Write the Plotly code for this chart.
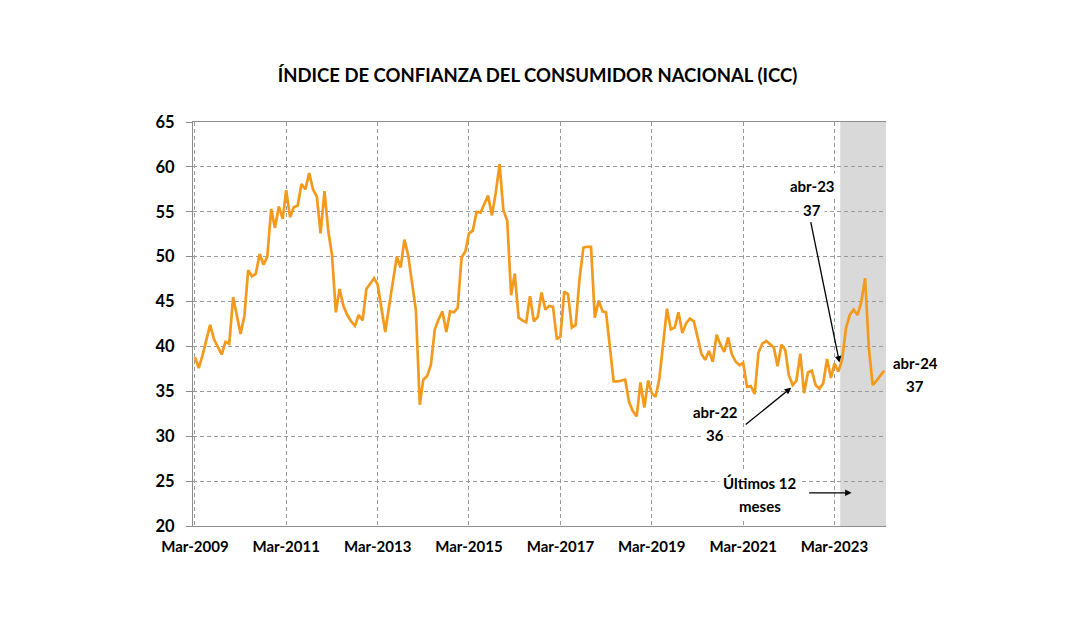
import pandas as pd
import plotly.graph_objects as go

# Monthly ICC values, Mar-2009 .. Apr-2024 (182 months)
start_month = "2009-03-01"
icc_values = [
    38.8, 37.6, 39.0, 40.7, 42.4, 40.8, 40.0, 39.1, 40.5, 40.3,
    45.5, 43.5, 41.4, 43.4, 48.5, 47.8, 48.1, 50.3, 49.1, 50.0,
    55.3, 53.2, 55.6, 54.2, 57.4, 54.4, 55.5, 55.7, 58.1, 57.5,
    59.3, 57.5, 56.7, 52.6, 57.3, 52.8, 50.2, 43.8, 46.4, 44.5,
    43.5, 42.8, 42.3, 43.5, 42.9, 46.4, 47.0, 47.6, 46.9, 44.3,
    41.6, 44.5, 47.3, 50.0, 48.8, 51.9, 50.1, 47.0, 44.0, 33.5,
    36.3, 36.7, 38.0, 41.9, 43.0, 43.9, 41.6, 43.9, 43.8, 44.3,
    49.9, 50.6, 52.6, 52.9, 55.0, 54.9, 55.9, 56.8, 54.6, 57.1,
    60.3, 55.2, 54.0, 45.7, 48.1, 43.2, 42.9, 42.7, 45.6, 42.8,
    43.3, 46.0, 44.1, 44.5, 44.4, 40.8, 41.1, 46.1, 45.8, 42.1,
    42.4, 47.5, 51.0, 51.1, 51.1, 43.2, 45.1, 43.9, 43.8, 40.0,
    36.1, 36.1, 36.2, 36.3, 33.8, 32.8, 32.2, 36.0, 33.2, 36.2,
    34.8, 34.4, 36.4, 40.5, 44.2, 41.9, 42.1, 43.8, 41.5, 42.6,
    43.1, 42.8, 41.0, 39.2, 38.5, 39.5, 38.3, 41.3, 40.2, 39.4,
    41.0, 39.1, 38.3, 37.9, 38.2, 35.5, 35.6, 34.7, 39.3, 40.3,
    40.6, 40.3, 39.9, 37.8, 40.2, 39.6, 36.8, 35.7, 36.2, 39.2,
    34.8, 37.1, 37.3, 35.7, 35.3, 35.9, 38.6, 36.5, 38.1, 37.2,
    38.5, 42.0, 43.5, 44.1, 43.5, 44.9, 47.6, 39.8, 35.7, 36.2,
    36.8, 37.3,
]
months = pd.date_range(start_month, periods=len(icc_values), freq="MS")

tick_dates = ["2009-03-01", "2011-03-01", "2013-03-01", "2015-03-01",
              "2017-03-01", "2019-03-01", "2021-03-01", "2023-03-01"]
tick_labels = ["Mar-2009", "Mar-2011", "Mar-2013", "Mar-2015",
               "Mar-2017", "Mar-2019", "Mar-2021", "Mar-2023"]
y_ticks = [20, 25, 30, 35, 40, 45, 50, 55, 60, 65]

FONT = "Lato"
GRID = "#9a9a9a"
AXIS = "#8c8c8c"
OFF = 8  # page body margin

fig = go.Figure()
fig.add_trace(go.Scatter(
    x=months, y=icc_values, mode="lines",
    line=dict(color="#F39A1C", width=2.7),
    hoverinfo="x+y", showlegend=False,
))

# Shaded "last 12 months" region
fig.add_shape(type="rect", xref="x", yref="paper",
              x0="2023-04-16", x1="2024-04-16", y0=0, y1=1,
              fillcolor="#D9D9D9", line=dict(width=0), layer="between")

def label(lines, xp, yp):
    n = len(lines)
    spacing = 23 / 404
    for i, t in enumerate(lines):
        yy = yp + spacing * ((n - 1) / 2 - i)
        fig.add_annotation(xref="paper", yref="paper", x=xp, y=yy,
                           text="<b>%s</b>" % t, showarrow=False,
                           font=dict(family=FONT, size=15, color="black"),
                           bgcolor="white", borderpad=3,
                           xanchor="center", yanchor="middle")

label(["abr-23", "37"], (812 - 193) / 693, (526 - 198) / 404)
label(["abr-22", "36"], (715 - 193) / 693, (526 - 423) / 404)
label(["abr-24", "37"], (915 - 193) / 693, (526 - 374) / 404)
label(["Últimos 12", "meses"], (760 - 193) / 693, (526 - 494) / 404)

def arrow(x, y, ax, ay):
    fig.add_annotation(x=x, y=y, xref="x", yref="y", ax=ax, ay=ay,
                       text="", showarrow=True, arrowhead=2, arrowsize=1,
                       arrowwidth=1.3, arrowcolor="black", standoff=0)

arrow("2023-04-10", 38.2, -29, -142)
arrow("2022-03-20", 35.4, -47, 38)
arrow("2023-07-16", 23.7, -44, 0)

W, H = 1080 - OFF, 631 - OFF
fig.update_layout(
    width=W, height=H,
    margin=dict(l=193 - OFF, r=194, t=122 - OFF, b=105),
    paper_bgcolor="white", plot_bgcolor="white",
    font=dict(family=FONT, size=15, color="black"),
    title=dict(text="<b>ÍNDICE DE CONFIANZA DEL CONSUMIDOR NACIONAL (ICC)</b>",
               x=(537.5 - OFF) / W, xref="container", xanchor="center",
               y=1 - (76 - OFF) / H, yref="container", yanchor="middle",
               font=dict(family=FONT, size=18.5, color="black")),
)
fig.update_xaxes(
    type="date", range=["2009-02-14", "2024-04-16"],
    tickmode="array", tickvals=tick_dates,
    ticktext=["<b>%s</b>" % t for t in tick_labels],
    showgrid=True, gridcolor=GRID, griddash="4px,3px", gridwidth=1,
    showline=True, linecolor=AXIS, linewidth=1.3, mirror=True,
    ticks="", ticklabelstandoff=7, zeroline=False,
    tickfont=dict(family=FONT, size=15, color="black"),
)
fig.update_yaxes(
    range=[20, 65], tickmode="array", tickvals=y_ticks,
    ticktext=["<b>%d</b>" % v for v in y_ticks],
    showgrid=True, gridcolor=GRID, griddash="4px,3px", gridwidth=1,
    showline=True, linecolor=AXIS, linewidth=1.3,
    ticks="outside", ticklen=6, tickcolor=AXIS, ticklabelstandoff=8,
    zeroline=False,
    tickfont=dict(family=FONT, size=16.5, color="black"),
)

fig.write_html("out.html")
